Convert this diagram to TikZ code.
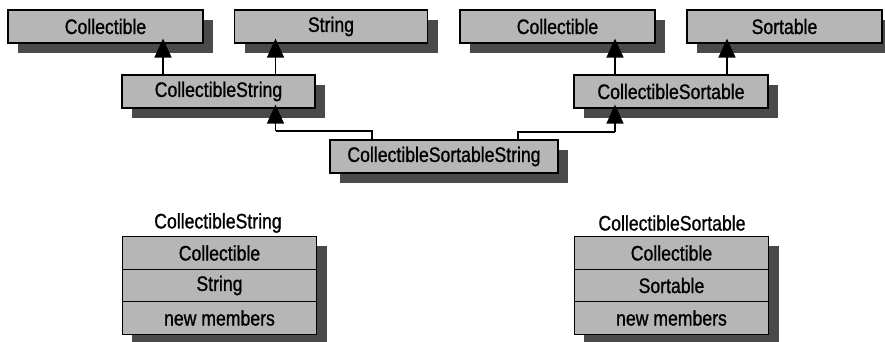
\documentclass[tikz,border=0pt]{standalone}
\usepackage{fontspec}
\setmainfont{Liberation Sans}[FakeStretch=0.84,FakeBold=1]
\usetikzlibrary{arrows.meta,shadows,backgrounds,calc}
\definecolor{boxgray}{HTML}{B6B6B6}
\definecolor{shadowgray}{HTML}{4A4A4A}
\tikzset{
  cls/.style={draw=black, line width=1.3pt, fill=boxgray, minimum height=33pt,
    inner sep=0pt, font=\fontsize{21}{25}\selectfont,
    drop shadow={shadow xshift=10pt, shadow yshift=-10pt, opacity=1, fill=shadowgray}},
  row/.style={draw=black, line width=1.3pt, fill=boxgray, minimum height=32.5pt,
    minimum width=194pt, inner sep=0pt, font=\fontsize{21}{25}\selectfont},
  lbl/.style={inner sep=0pt, font=\fontsize{21}{25}\selectfont},
  arr/.style={line width=1.6pt, -{Triangle[width=17pt,length=19pt]}},
}
\begin{document}
\begin{tikzpicture}[x=1pt,y=-1pt]
\useasboundingbox (0,0) rectangle (885,342);
% top row
\node[cls, minimum width=195pt] (c1) at (105.5,26.5) {Collectible};
\node[cls, minimum width=193pt] (str) at (331,26.5) {String};
\node[cls, minimum width=195pt] (c2) at (557.5,26.5) {Collectible};
\node[cls, minimum width=195pt] (srt) at (784.5,26.5) {Sortable};
% middle row
\node[cls, minimum width=193pt] (cs) at (218.5,91.5) {CollectibleString};
\node[cls, minimum width=194pt] (cso) at (671,91.5) {CollectibleSortable};
% bottom
\node[cls, minimum width=228pt] (css) at (444,156.5) {CollectibleSortableString};
% connectors
\coordinate (a1) at (163,0);
\coordinate (a2) at (275.5,0);
\coordinate (a3) at (615,0);
\coordinate (a4) at (727,0);
\coordinate (b1) at (372,131);
\coordinate (b2) at (518,132);
\draw[arr] (a1 |- cs.north) -- ($(a1 |- c1.south)+(0,-5)$);
\draw[arr] (a2 |- cs.north) -- ($(a2 |- str.south)+(0,-5)$);
\draw[arr] (a3 |- cso.north) -- ($(a3 |- c2.south)+(0,-5)$);
\draw[arr] (a4 |- cso.north) -- ($(a4 |- srt.south)+(0,-5)$);
\draw[line width=1.3pt] (b1 |- css.north) -- (b1) -- (a2 |- b1) coordinate (k1);
\draw[arr] (k1) -- ($(a2 |- cs.south)+(0,-4)$);
\draw[line width=1.3pt] (b2 |- css.north) -- (b2) -- (a3 |- b2) coordinate (k2);
\draw[arr] (k2) -- ($(a3 |- cso.south)+(0,-4)$);
% layouts
\node[lbl] (l1) at (218,223) {CollectibleString};
\node[row] (r1a) at (219.5,253) {Collectible};
\node[row] (r1b) at (219.5,285.5) {String};
\node[row] (r1c) at (219.5,318) {new members};
\node[lbl] (l2) at (672,223) {CollectibleSortable};
\node[row] (r2a) at (671.5,253) {Collectible};
\node[row] (r2b) at (671.5,285.5) {Sortable};
\node[row] (r2c) at (671.5,318) {new members};
\begin{pgfonlayer}{background}
\fill[shadowgray] ([shift={(10pt,-10pt)}]r1a.north west) rectangle ([xshift=10pt]r1c.south east |- 0,342);
\fill[shadowgray] ([shift={(10pt,-10pt)}]r2a.north west) rectangle ([xshift=10pt]r2c.south east |- 0,342);
\end{pgfonlayer}
\end{tikzpicture}
\end{document}
